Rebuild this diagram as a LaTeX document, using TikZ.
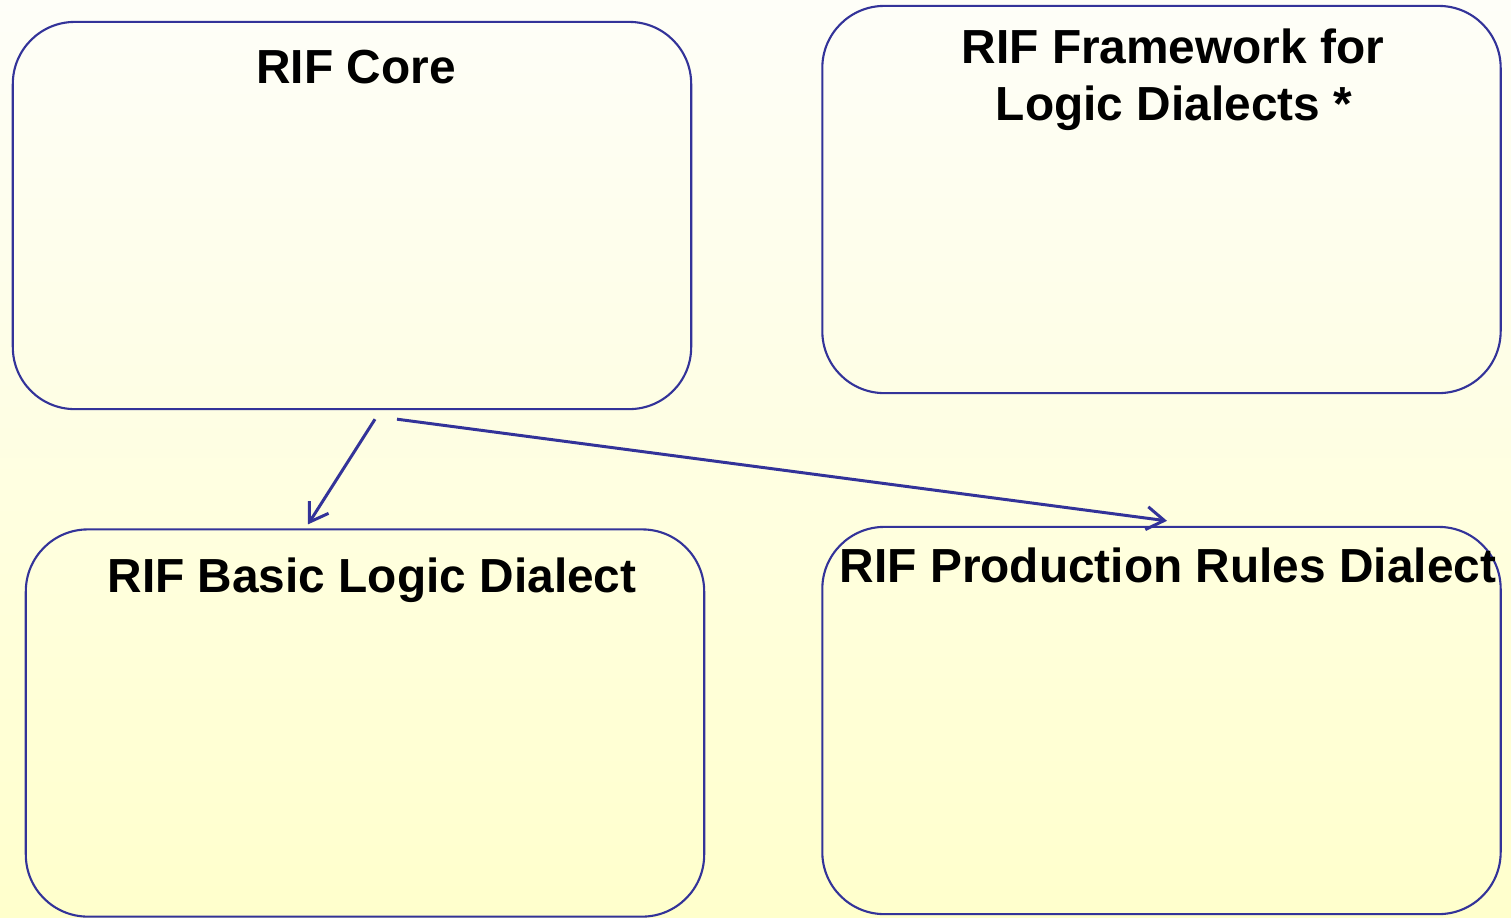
\documentclass[tikz,border=0pt]{standalone}
\usepackage{fontspec}
\setmainfont{Liberation Sans}
\usepackage{tikz}
\usetikzlibrary{arrows.meta,positioning,calc}

\definecolor{rifblue}{RGB}{51,51,153}
\definecolor{bgtop}{RGB}{254,254,248}
\definecolor{bgbot}{RGB}{255,255,204}

\tikzset{
  dialect/.style={draw=rifblue, line width=0.6pt, rounded corners=0.62cm, minimum width=6.78cm, minimum height=3.87cm, inner sep=0pt},
  title/.style={anchor=base, font=\fontsize{13.6}{16}\selectfont\bfseries},
  arr/.style={draw=rifblue, line width=0.85pt, -{Straight Barb[length=5pt,width=6.5pt]}}
}

\begin{document}
\begin{tikzpicture}[x=0.01cm, y=-0.01cm]
        % Background
        \shade[top color=bgtop, bottom color=bgbot] (0,0) rectangle (1511,917);
        \useasboundingbox (0,0) rectangle (1511,917);

        % Boxes
        \node[dialect] (core) at (352,215.5) {};
        \node[dialect] (fld) at (1161.5,199.5) {};
        \node[dialect] (bld) at (365,723) {};
        \node[dialect] (prd) at (1161.5,720.5) {};

        % Titles
        \node[title] (coret) at (356,83) {RIF Core};
        \node[title] (fldta) at (1173,63) {RIF Framework for};
        \node[title] (fldtb) at (1174,120) {Logic Dialects *};
        \node[title] (bldt) at (372,592) {RIF Basic Logic Dialect};
        \node[title] (prdt) at (1168,582) {RIF Production Rules Dialect};

        % Arrows
        \draw[arr] ([shift={(23,9)}]core.south) -- ([shift={(-57,-4)}]bld.north);
        \draw[arr] ([shift={(45,9)}]core.south) -- ([shift={(5.5,-5)}]prd.north);
    \end{tikzpicture}
\end{document}
